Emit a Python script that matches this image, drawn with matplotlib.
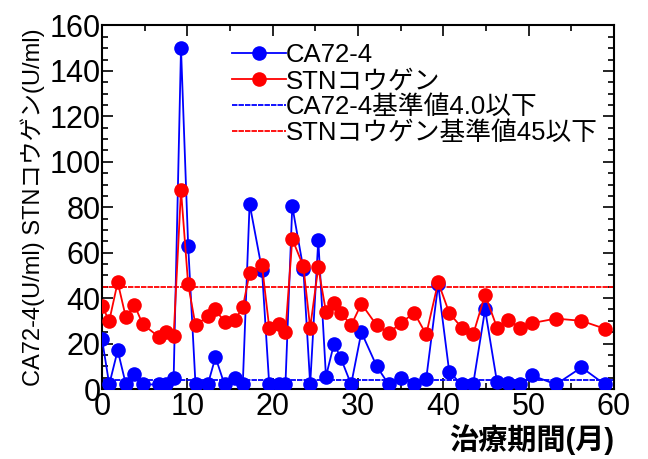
import matplotlib
matplotlib.use("Agg")
import matplotlib.pyplot as plt
from matplotlib.ticker import MultipleLocator

plt.rcParams['font.family'] = ['Liberation Sans', 'Noto Sans CJK JP']

months = [0, 0.85, 1.84, 2.8, 3.8, 4.77, 6.65, 7.5, 8.4, 9.26, 10.1, 10.96, 12.4, 13.3,
          14.36, 15.6, 16.5, 17.3, 18.75, 19.6, 20.7, 21.5, 22.3, 23.6, 24.4, 25.35,
          26.25, 27.2, 28, 29.2, 30.4, 32.2, 33.6, 35, 36.6, 38, 39.4, 40.7, 42.15,
          43.5, 44.9, 46.3, 47.6, 49, 50.4, 53.2, 56.2, 58.95]
ca724 = [22, 2, 17, 2, 6.5, 2, 2, 2, 5, 150, 63, 2, 2, 14, 2, 5, 2, 81.5, 52.5, 2,
         2, 2, 80.5, 53, 2, 65.5, 5.5, 20, 13.5, 2, 25, 10, 2, 5, 2, 4.5, 46, 7.5,
         2, 2, 35, 3, 2.5, 2, 6, 2, 9.5, 2]
stn = [36.5, 30, 47, 31.5, 37, 28.5, 23, 25, 23.5, 87.5, 46, 28, 32, 35, 29.5,
       30.5, 36, 51, 54.5, 27, 28.5, 25, 66, 54, 27, 53.5, 34, 38, 33.5, 28, 37.5,
       28, 24.5, 29, 33.5, 24, 47, 33.5, 27, 24, 41.5, 27, 30.5, 27, 29, 31, 30, 26.5]
ca724_ref = 4.0
stn_ref = 45

labels = ['CA72-4', 'STNコウゲン', 'CA72-4基準値4.0以下', 'STNコウゲン基準値45以下']

fig = plt.figure(figsize=(6.48, 4.59), dpi=100)
ax = fig.add_axes([0.1574, 0.1525, 0.79, 0.792])

ax.plot(months, ca724, color='#0000FF', lw=1.3, marker='o', ms=10.5,
        markeredgewidth=0, label=labels[0], zorder=3)
ax.plot(months, stn, color='#FF0000', lw=1.3, marker='o', ms=10.5,
        markeredgewidth=0, label=labels[1], zorder=4)
ax.axhline(ca724_ref, color='#0000FF', lw=1.3, ls=(0, (3, 0.6)), label=labels[2], zorder=2)
ax.axhline(stn_ref, color='#FF0000', lw=1.3, ls=(0, (3, 0.6)), label=labels[3], zorder=2)

ax.set_xlim(0, 60)
ax.set_ylim(0, 160)
ax.xaxis.set_major_locator(MultipleLocator(10))
ax.xaxis.set_minor_locator(MultipleLocator(5))
ax.yaxis.set_major_locator(MultipleLocator(20))
ax.yaxis.set_minor_locator(MultipleLocator(5))
ax.tick_params(which='both', direction='in', top=True, right=True, width=1.2)
ax.tick_params(which='major', length=8, labelsize=22)
ax.tick_params(axis='y', which='major', pad=1)
ax.tick_params(axis='x', which='major', pad=2)
ax.tick_params(which='minor', length=4)
for s in ax.spines.values():
    s.set_linewidth(1.5)

ax.set_ylabel('CA72-4(U/ml) STNコウゲン(U/ml)', fontsize=17, labelpad=3)
ax.set_xlabel('治療期間(月)', fontsize=21, fontweight='bold', loc='right', labelpad=2)

leg = ax.legend(loc='upper left', bbox_to_anchor=(0.218, 1.0), frameon=False,
                fontsize=18.5, handlelength=2.1, handletextpad=0.0,
                labelspacing=0.07, borderpad=0.2)

fig.savefig('out.png', dpi=100)
